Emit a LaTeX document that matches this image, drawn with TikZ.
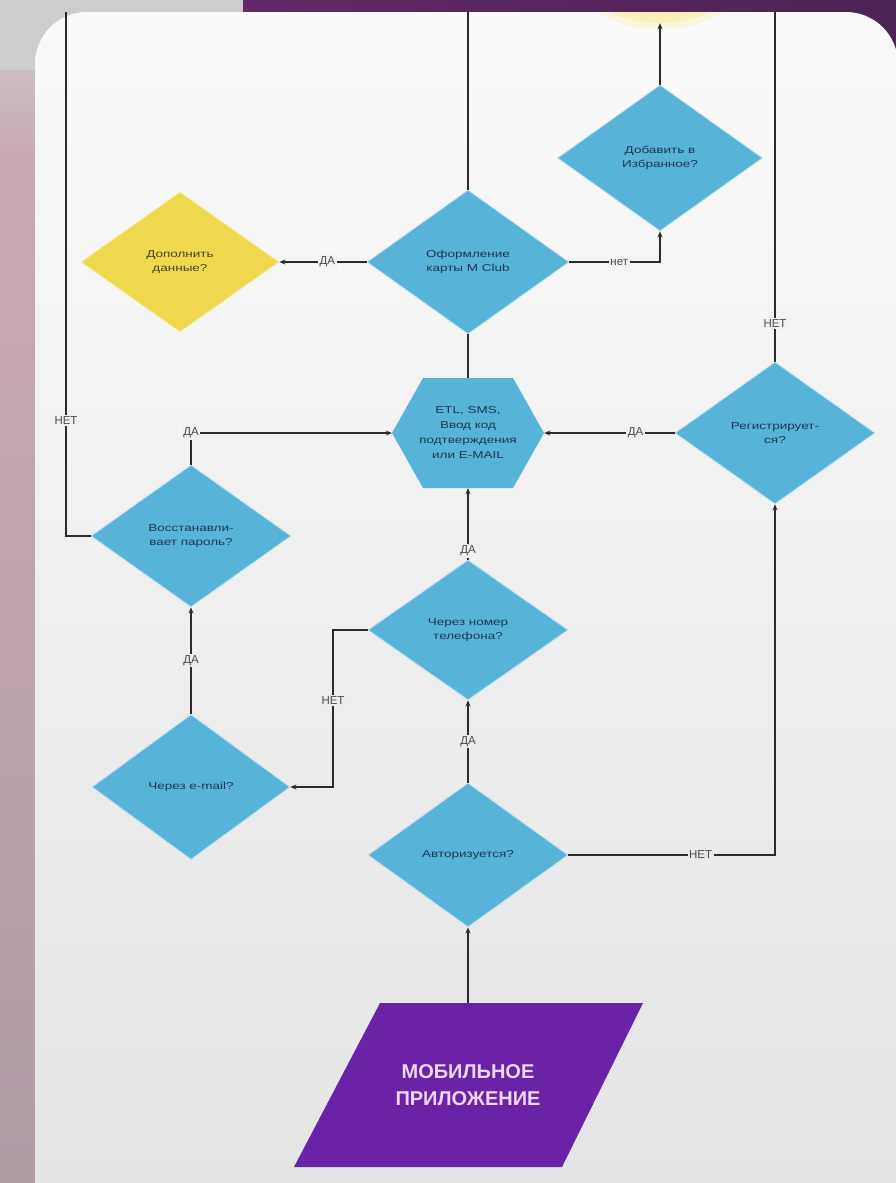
\documentclass[tikz,border=0pt]{standalone}
\usepackage{fontspec}
\setmainfont{Liberation Sans}
\newfontfamily\stretchfont[FakeStretch=1.35]{Liberation Sans}
\usetikzlibrary{shapes.geometric,arrows.meta}
\definecolor{dblue}{HTML}{58B3D9}
\definecolor{ylw}{HTML}{EFD84E}
\definecolor{ink}{HTML}{1E3552}
\definecolor{yink}{HTML}{4A4222}
\definecolor{wire}{HTML}{2B2B2B}
\definecolor{lblc}{HTML}{4A4A4A}
\definecolor{purp}{HTML}{6A22A6}
\definecolor{purtxt}{HTML}{ECD8F4}
\definecolor{bandl}{HTML}{642868}
\definecolor{bandr}{HTML}{4B2553}
\definecolor{graytop}{HTML}{CDCDCD}
\definecolor{mauveA}{HTML}{C8A9B4}
\definecolor{mauveB}{HTML}{AE9BA4}
\definecolor{cardtop}{HTML}{FAFAFA}
\definecolor{cardbot}{HTML}{E3E3E3}
\begin{document}
\begin{tikzpicture}[x=1pt,y=-1pt,
  dia/.style={diamond, fill=dblue, draw=dblue!40!white, line width=0.8pt, inner sep=0pt,
    align=center, text=ink, font=\stretchfont\fontsize{10}{14}\selectfont},
  ydia/.style={dia, fill=ylw, draw=ylw!50!white, text=yink},
  conn/.style={draw=wire, line width=1.1pt},
  arr/.style={conn, -{Stealth[length=6pt,width=5pt]}},
  lbl/.style={fill=#1, inner sep=1.5pt, text=lblc, font=\fontsize{11.5}{13}\selectfont},
  lbl/.default={white!94!black}
]
\useasboundingbox (0,0) rectangle (896,1183);
% background
\shade[top color=graytop, bottom color=mauveA] (0,0) rectangle (896,160);
\shade[top color=mauveA, bottom color=mauveB] (0,160) rectangle (896,1183);
\fill[graytop] (0,0) rectangle (243,70);
\shade[left color=bandl, right color=bandr] (243,0) rectangle (896,80);
% card
\shade[top color=cardtop, bottom color=cardbot, rounded corners=52pt] (35,12) rectangle (898,1240);
\begin{scope}
  \clip[rounded corners=52pt] (35,12) rectangle (898,1240);
  \node[ellipse, fill=ylw!30!white, opacity=0.6, minimum width=140pt, minimum height=62pt] (glow) at (660,-2) {};
  \node[ellipse, fill=ylw!45!white, opacity=0.75, minimum width=118pt, minimum height=50pt] (fav) at (660,-2) {};
\end{scope}

% nodes
\node[dia, minimum width=205pt, minimum height=146pt] (dob) at (660,158) {Добавить в\\Избранное?};
\node[dia, minimum width=202pt, minimum height=144pt] (ofo) at (468,262) {Оформление\\карты M Club};
\node[ydia, minimum width=198pt, minimum height=140pt] (dop) at (180,262) {Дополнить\\данные?};
\fill[dblue] (392,433) -- (423,378) -- (513,378) -- (544,433) -- (513,488) -- (423,488) -- cycle;
\node[minimum width=152pt, minimum height=110pt, inner sep=0pt, align=center, text=ink,
  font=\stretchfont\fontsize{10}{15}\selectfont] (hex) at (468,433) {ETL, SMS,\\Ввод код\\подтверждения\\или E-MAIL};
\node[dia, minimum width=200pt, minimum height=142pt] (reg) at (775,433) {Регистрирует-\\ся?};
\node[dia, minimum width=200pt, minimum height=142pt] (vos) at (191,536) {Восстанавли-\\вает пароль?};
\node[dia, minimum width=200pt, minimum height=140pt] (tel) at (468,630) {Через номер\\телефона?};
\node[dia, minimum width=198pt, minimum height=145pt] (eml) at (191,787) {Через e-mail?};
\node[dia, minimum width=200pt, minimum height=144pt] (aut) at (468,855) {Авторизуется?};
\fill[purp] (380,1003) -- (643,1003) -- (562,1167) -- (294,1167) -- cycle;
\node[minimum width=180pt, minimum height=164pt, inner sep=0pt, align=center, text=purtxt,
  font=\bfseries\fontsize{20}{27}\selectfont] (app) at (468,1085) {МОБИЛЬНОЕ\\ПРИЛОЖЕНИЕ};

% free ends at the card top
\coordinate (tl) at (66,12);
\coordinate (tm) at (468,12);
\coordinate (tr) at (775,12);

% connectors
\draw[arr] (app.north) -- (aut.south);
\draw[arr] (aut.north) -- node[lbl=white!92!black] {ДА} (tel.south);
\draw[arr] (tel.north) -- node[lbl, pos=0.12] {ДА} (hex.south);
\draw[arr] (tel.west) -- (333,630) -- node[lbl=white!92.5!black, pos=0.45] {НЕТ} (333,787) -- (eml.east);
\draw[arr] (eml.north) -- node[lbl=white!92.5!black] {ДА} (vos.south);
\draw[arr] (vos.north) -- (191,433) node[lbl] {ДА} -- (hex.west);
\draw[conn] (vos.west) -- (66,536) -- node[lbl, pos=0.22] {НЕТ} (tl);
\draw[arr] (aut.east) -- node[lbl=white!91!black, pos=0.64] {НЕТ} (775,855) -- (reg.south);
\draw[arr] (reg.west) -- node[lbl, pos=0.3] {ДА} (hex.east);
\draw[conn] (reg.north) -- node[lbl=white!95!black, pos=0.11] {НЕТ} (tr);
\draw[conn] (hex.north) -- (ofo.south);
\draw[conn] (ofo.north) -- (tm);
\draw[arr] (ofo.west) -- node[lbl=white!95!black, pos=0.45] {ДА} (dop.east);
\draw[arr] (ofo.east) -- node[lbl=white!95!black, pos=0.55] {нет} (660,262) -- (dob.south);
\draw[arr] (dob.north) -- (fav.south);
\end{tikzpicture}
\end{document}
